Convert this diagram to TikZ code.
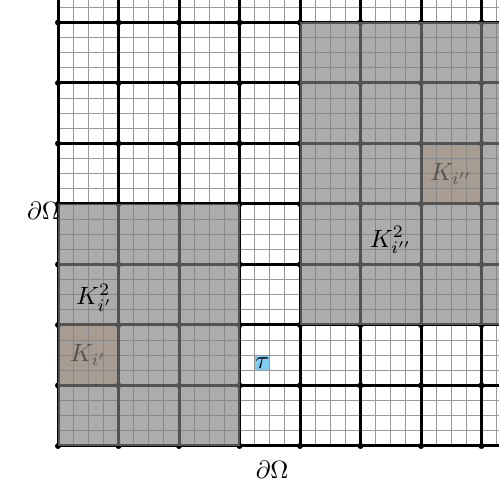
\documentclass[tikz,border=0pt]{standalone}
\definecolor{tanc}{rgb}{0.95,0.82,0.70}
\definecolor{taublue}{rgb}{0.50,0.80,0.95}
\tikzset{
  fine/.style={draw=black!40,line width=0.4pt},
  coarse/.style={draw=black,line width=1.2pt},
  overlay/.style={fill=gray,fill opacity=0.65},
  lbl/.style={inner sep=0pt}
}
\begin{document}
\begin{tikzpicture}[x=0.4pt,y=-0.4pt]
\useasboundingbox (0,0) rectangle (499,497);
\fill[white] (0,0) rectangle (499,497);
\clip (0,0) rectangle (499,497);
\begin{scope}[shift={(58,446)},x=24.2pt,y=24.2pt]
  \fill[tanc] (0,1) rectangle (1,2);
  \fill[tanc] (6,4) rectangle (7,5);
  \foreach \k in {0,...,34} {
    \draw[fine] (\k/4,0) -- (\k/4,8.6);
    \draw[fine] (0,\k/4) -- (8.6,\k/4);
  }
  \foreach \k in {0,...,8} {
    \draw[coarse] (\k,0) -- (\k,8.6);
    \draw[coarse] (0,\k) -- (8.6,\k);
  }
  \foreach \i in {0,...,8} {
    \foreach \j in {0,...,8} {
      \fill (\i,\j) circle (1.2pt);
    }
  }
  \node[lbl] (ki1) at (0.5,1.5) {$K_{i'}$};
  \node[lbl] (ki2) at (6.5,4.5) {$K_{i''}$};
  \fill[overlay] (0,0) rectangle (3,4);
  \fill[overlay] (4,2) rectangle (8.6,7);
  \node[lbl] (k2a) at (0.6,2.45) {$K_{i'}^2$};
  \node[lbl] (k2b) at (5.5,3.4) {$K_{i''}^2$};
  \fill[taublue] (3.25,1.25) rectangle (3.5,1.5);
  \draw[black!40,line width=0.4pt] (3.25,1.25) rectangle (3.5,1.5);
  \node[lbl] (tau) at (3.375,1.375) {$\tau$};
  \node[lbl] (bl) at (-0.24,3.88) {$\partial\Omega$};
  \node[lbl] (bb) at (3.54,-0.4) {$\partial\Omega$};
\end{scope}
\end{tikzpicture}
\end{document}
